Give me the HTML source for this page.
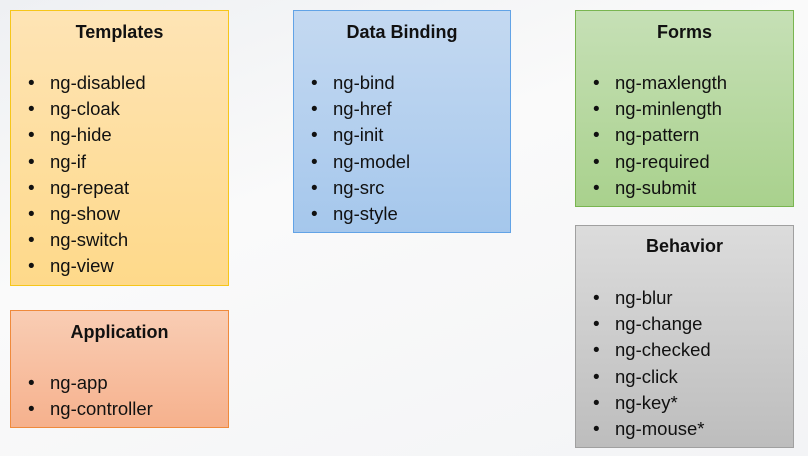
<!DOCTYPE html>
<html><head><meta charset="utf-8"><style>
html,body{margin:0;padding:0}
body{width:808px;height:456px;position:relative;overflow:hidden;background:linear-gradient(160deg,#eef0f3 0%,#fafafa 40%,#f3f4f6 100%);font-family:"Liberation Sans",sans-serif;color:#111}
.box{position:absolute;box-sizing:border-box;border:1px solid}
.t{position:absolute;left:0;right:0;text-align:center;font-weight:bold;font-size:18px;line-height:26px}
.i{position:absolute;font-size:18.5px;line-height:26px;white-space:nowrap}
.b{position:absolute;font-size:19px;line-height:26px}
</style></head><body>

<div class="box" style="left:10px;top:10px;width:219px;height:276px;border-color:#f6c61a;background:linear-gradient(#fee4b5,#fed98a)">
<div class="t" style="top:8px">Templates</div>
</div>
<div class="box" style="left:10px;top:310px;width:219px;height:118px;border-color:#ef8a3c;background:linear-gradient(#f9cdb4,#f6b18d)">
<div class="t" style="top:8px">Application</div>
</div>
<div class="box" style="left:293px;top:10px;width:218px;height:223px;border-color:#62a3e6;background:linear-gradient(#c4d9f1,#a5c7ec)">
<div class="t" style="top:8px">Data Binding</div>
</div>
<div class="box" style="left:575px;top:10px;width:219px;height:197px;border-color:#79b550;background:linear-gradient(#c6e0b6,#a9d18d)">
<div class="t" style="top:8px">Forms</div>
</div>
<div class="box" style="left:575px;top:225px;width:219px;height:223px;border-color:#a0a0a0;background:linear-gradient(#dcdcdc,#bdbdbd)">
<div class="t" style="top:7px">Behavior</div>
</div>

<div id="lists"></div>
<script>
var L=[
[10,83,["ng-disabled","ng-cloak","ng-hide","ng-if","ng-repeat","ng-show","ng-switch","ng-view"]],
[10,383,["ng-app","ng-controller"]],
[293,83,["ng-bind","ng-href","ng-init","ng-model","ng-src","ng-style"]],
[575,83,["ng-maxlength","ng-minlength","ng-pattern","ng-required","ng-submit"]],
[575,298,["ng-blur","ng-change","ng-checked","ng-click","ng-key*","ng-mouse*"]]];
var h="";
L.forEach(function(g){g[2].forEach(function(s,k){var y=g[1]+k*26.2-13;
h+='<div class="b" style="left:'+(g[0]+18)+'px;top:'+(y+1)+'px">&#8226;</div><div class="i" style="left:'+(g[0]+40)+'px;top:'+y+'px">'+s+'</div>';});});
document.getElementById("lists").innerHTML=h;
</script>
</body></html>
